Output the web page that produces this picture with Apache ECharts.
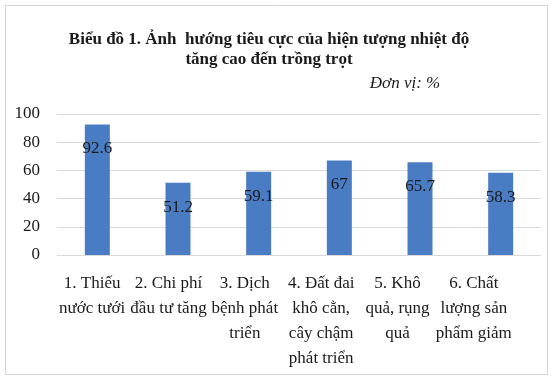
<!DOCTYPE html>
<html><head><meta charset="utf-8">
<script src="https://cdn.jsdelivr.net/npm/echarts@6/dist/echarts.min.js"></script>
<style>html,body{margin:0;padding:0;background:#fff}#c{width:553px;height:379px}</style>
</head><body><div id="c"></div>
<script>
var categories = ["1. Thiếu\nnước tưới", "2. Chi phí\nđầu tư tăng", "3. Dịch\nbệnh phát\ntriển", "4. Đất đai\nkhô cằn,\ncây chậm\nphát triển", "5. Khô\nquả, rụng\nquả", "6. Chất\nlượng sản\nphẩm giảm"];
var values = [92.6, 51.2, 59.1, 67, 65.7, 58.3];
var yTicks = [0, 20, 40, 60, 80, 100];
var titleText = "Biểu đồ 1. Ảnh  hướng tiêu cực của hiện tượng nhiệt độ\ntăng cao đến trồng trọt";
var unitText = "Đơn vị: %";

var FONT = "'Liberation Serif','DejaVu Serif',serif";
var chart = echarts.init(document.getElementById('c'), null, {renderer: 'canvas'});
chart.setOption({
  backgroundColor: '#fff',
  animation: false,
  graphic: [{
    type: 'rect', shape: {x: 5.5, y: 5.5, width: 542, height: 369},
    style: {fill: 'none', stroke: '#d4d4d4', lineWidth: 1}, silent: true
  }],
  title: [{
    text: titleText, left: 264, top: 25, textAlign: 'center',
    textStyle: {fontFamily: FONT, fontWeight: 'bold', fontSize: 17, lineHeight: 20, color: '#1a1a1a'}
  }, {
    text: unitText, left: 400, top: 70, textAlign: 'center',
    textStyle: {fontFamily: FONT, fontStyle: 'italic', fontWeight: 'normal', fontSize: 17, color: '#1a1a1a'}
  }],
  grid: [
    {left: 57, right: 12, top: 114, bottom: 124},
    {left: 54, right: 41, top: 114, bottom: 124}
  ],
  xAxis: [{
    type: 'category', data: categories, gridIndex: 0,
    axisLine: {show: false}, axisTick: {show: false}, axisLabel: {show: false}
  }, {
    type: 'category', data: categories, gridIndex: 1,
    axisLine: {show: false}, axisTick: {show: false},
    axisLabel: {fontFamily: FONT, fontSize: 17, lineHeight: 25, color: '#1a1a1a', margin: 16, interval: 0}
  }],
  yAxis: [{
    type: 'value', min: yTicks[0], max: yTicks[yTicks.length - 1], interval: 20, gridIndex: 0,
    axisLine: {show: false}, axisTick: {show: false},
    axisLabel: {fontFamily: FONT, fontSize: 17, color: '#1a1a1a', margin: 17},
    splitLine: {lineStyle: {color: '#d9d9d9', width: 1}}
  }, {
    type: 'value', min: 0, max: 100, gridIndex: 1, show: false
  }],
  series: [{
    type: 'bar', data: values, xAxisIndex: 0, yAxisIndex: 0,
    barWidth: 25,
    itemStyle: {color: '#4a7cc4'},
    label: {show: true, position: 'insideTop', distance: 16,
      fontFamily: FONT, fontSize: 17, color: '#1a1a1a'}
  }]
});
</script></body></html>
